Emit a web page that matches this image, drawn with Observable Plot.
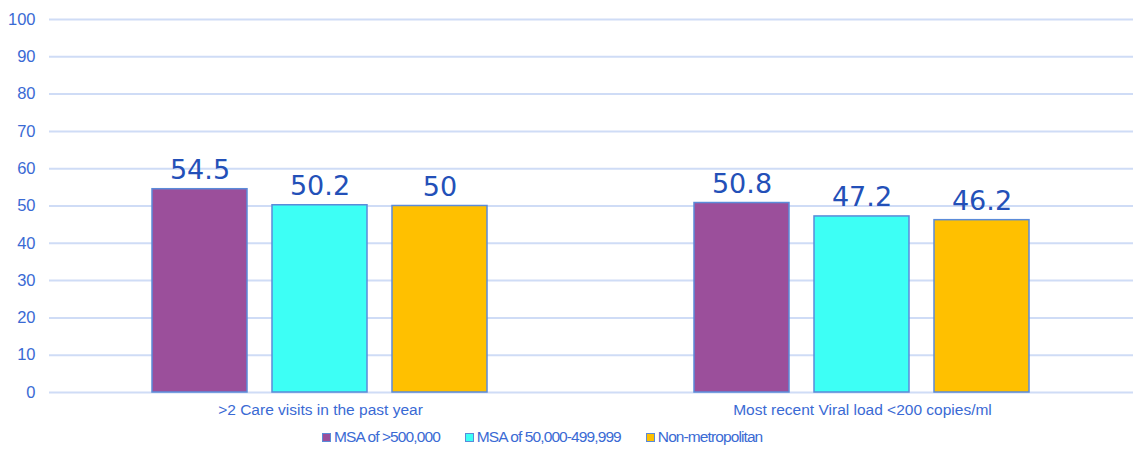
<!DOCTYPE html>
<html>
<head>
<meta charset="utf-8">
<script src="https://cdn.jsdelivr.net/npm/d3@7"></script>
<script src="https://cdn.jsdelivr.net/npm/@observablehq/plot@0.6"></script>
<style>
  html, body { margin: 0; padding: 0; background: #fff; }
  body { width: 1133px; height: 450px; overflow: hidden; font-family: "Liberation Sans", Arial, sans-serif; position: relative; }
  #legend { position: absolute; top: 428px; left: 322px; display: flex; gap: 25px; font-size: 15.5px; color: #3a6ad4; letter-spacing: -0.9px; }
  #legend .item { display: flex; align-items: center; gap: 3px; }
  #legend .sw { width: 7px; height: 7px; border: 1.5px solid #5b8bd9; box-sizing: content-box; }
</style>
</head>
<body>
<div id="chart"></div>
<div id="legend"></div>
<script>
const categories = [">2 Care visits in the past year", "Most recent Viral load <200 copies/ml"];
const series = ["MSA of >500,000", "MSA of 50,000-499,999", "Non-metropolitan"];
const colors = ["#9b4f9b", "#3dfff5", "#ffc000"];
const values = {
  "MSA of >500,000": [54.5, 50.8],
  "MSA of 50,000-499,999": [50.2, 47.2],
  "Non-metropolitan": [50, 46.2]
};
const yTicks = [0, 10, 20, 30, 40, 50, 60, 70, 80, 90, 100];

const data = [];
categories.forEach((c, i) => series.forEach(s => data.push({category: c, series: s, value: values[s][i]})));

const chart = Plot.plot({
  width: 1133,
  height: 425,
  marginLeft: 48,
  marginRight: 0,
  marginTop: 19,
  marginBottom: 33,
  style: {fontFamily: "Liberation Sans, Arial, sans-serif", background: "#fff"},
  fx: {domain: categories, padding: 0, label: null, axis: null},
  x: {domain: series, paddingInner: 0.2083, paddingOuter: 0.854, axis: null},
  y: {domain: [0, 100], ticks: yTicks, label: null},
  color: {domain: series, range: colors},
  marks: [
    Plot.gridY(yTicks, {stroke: "#cfdcf6", strokeOpacity: 1, strokeWidth: 2}),
    Plot.axisY({ticks: yTicks, tickSize: 0, tickPadding: 14, fontSize: 16.5, fill: "#3a6ad4", tickFormat: d => String(d), style: {letterSpacing: "-0.5px"}}),
    Plot.axisFx({anchor: "bottom", tickSize: 0, tickPadding: 11, fontSize: 15.5, fill: "#3a6ad4", label: null, style: {letterSpacing: "-0.2px"}}),
    Plot.barY(data, {fx: "category", x: "series", y: "value", fill: "series", stroke: "#5b8bd9", strokeWidth: 1.5}),
    Plot.text(data, {fx: "category", x: "series", y: "value", text: d => String(d.value), lineAnchor: "bottom", dy: -10, fontSize: 27, fontFamily: "DejaVu Sans", fill: "#2350b8"})
  ]
});
document.getElementById("chart").appendChild(chart);

const legend = document.getElementById("legend");
series.forEach((s, i) => {
  const it = document.createElement("div");
  it.className = "item";
  const sw = document.createElement("span");
  sw.className = "sw";
  sw.style.background = colors[i];
  const t = document.createElement("span");
  t.textContent = s;
  it.appendChild(sw); it.appendChild(t);
  legend.appendChild(it);
});
</script>
</body>
</html>
